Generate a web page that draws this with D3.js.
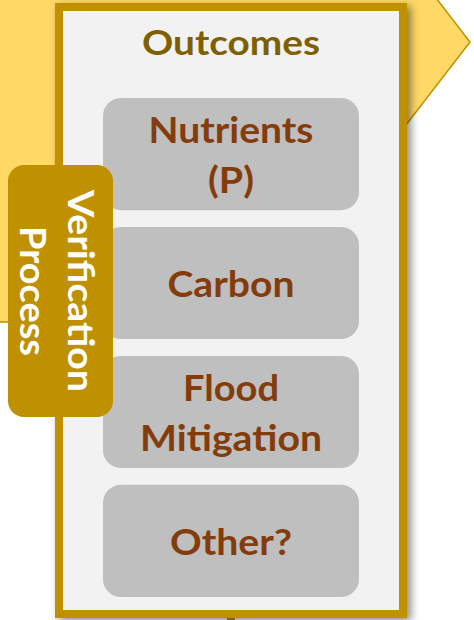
<!DOCTYPE html>
<html><head><meta charset="utf-8">
<script src="https://cdn.jsdelivr.net/npm/d3@7"></script>
<style>html,body{margin:0;padding:0;background:#fff;overflow:hidden}</style>
</head><body>
<script>
// ---- data ----
const title = "Outcomes";
const outcomes = ["Nutrients|(P)", "Carbon", "Flood|Mitigation", "Other?"];
const sideLabel = ["Verification", "Process"];

const W = 474, H = 620;
const FONT = "Lato, 'Open Sans', sans-serif";
const svg = d3.select("body").append("svg").attr("width", W).attr("height", H);

const defs = svg.append("defs");
const f = defs.append("filter").attr("id", "sh").attr("x", "-20%").attr("y", "-20%").attr("width", "140%").attr("height", "140%");
f.append("feDropShadow").attr("dx", 4).attr("dy", 3).attr("stdDeviation", 4).attr("flood-color", "#000").attr("flood-opacity", 0.45);

// yellow arrow background
const arrow = [[-10, -238], [254, -238], [470, 42], [254, 322], [-10, 322]];
svg.append("path").attr("d", d3.line()(arrow) + "Z")
  .attr("fill", "#FFD966").attr("stroke", "#BF9000").attr("stroke-width", 1.5);

// connector below box
svg.append("line").attr("x1", 231).attr("x2", 231).attr("y1", 612).attr("y2", 625)
  .attr("stroke", "#BF9000").attr("stroke-width", 8);

// outer box
svg.append("rect").attr("x", 59).attr("y", 7).attr("width", 344).attr("height", 607)
  .attr("fill", "#F2F2F2").attr("stroke", "#BF9000").attr("stroke-width", 8)
  .attr("filter", "url(#sh)");

// title
svg.append("text").attr("x", 231).attr("y", 55).attr("text-anchor", "middle")
  .attr("font-family", FONT).attr("font-weight", 700).attr("font-size", 34)
  .attr("fill", "#7F6000").attr("textLength", 178).attr("lengthAdjust", "spacingAndGlyphs")
  .text(title);

// outcome boxes
const y = d3.scaleBand().domain(outcomes).range([98, 597]).paddingInner(0.13).paddingOuter(0);
const g = svg.append("g").selectAll("g").data(outcomes).join("g")
  .attr("transform", d => `translate(103,${y(d)})`);
g.append("rect").attr("width", 256).attr("height", y.bandwidth()).attr("rx", 18)
  .attr("fill", "#BFBFBF");
const widths = {"Nutrients": 165, "(P)": 46, "Carbon": 127, "Flood": 96, "Mitigation": 182, "Other?": 122};
g.each(function(d) {
  const lines = d.split("|");
  const lh = 50;
  const cy = y.bandwidth() / 2;
  const t = d3.select(this).append("text").attr("text-anchor", "middle")
    .attr("font-family", FONT).attr("font-weight", 700).attr("font-size", 36).attr("fill", "#843C0C");
  lines.forEach((l, i) => {
    t.append("tspan").attr("x", 128)
      .attr("y", cy + 14 + (i - (lines.length - 1) / 2) * lh)
      .attr("textLength", widths[l]).attr("lengthAdjust", "spacingAndGlyphs")
      .text(l);
  });
});

// verification tab
svg.append("rect").attr("x", 8).attr("y", 165).attr("width", 105).attr("height", 252).attr("rx", 16)
  .attr("fill", "#BF9000");
const vt = svg.append("text").attr("transform", "translate(60,291) rotate(90)")
  .attr("text-anchor", "middle").attr("font-family", FONT).attr("font-weight", 700)
  .attr("font-size", 36).attr("fill", "#fff");
const vw = [202, 130];
sideLabel.forEach((l, i) => {
  vt.append("tspan").attr("x", 0).attr("y", -8 + i * 48)
    .attr("textLength", vw[i]).attr("lengthAdjust", "spacingAndGlyphs").text(l);
});
</script>
</body></html>
